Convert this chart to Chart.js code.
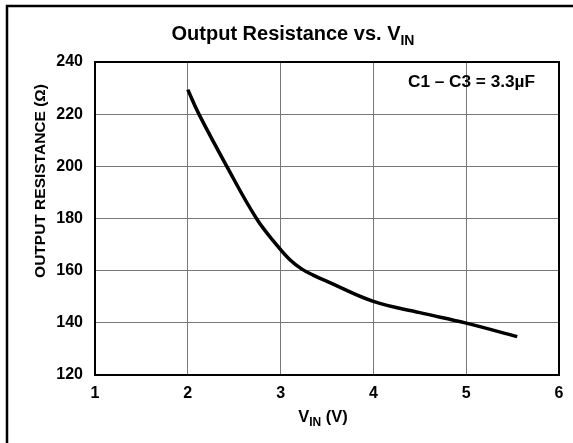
<!DOCTYPE html>
<html>
<head>
<meta charset="utf-8">
<script src="https://cdn.jsdelivr.net/npm/chart.js@4.4.1/dist/chart.umd.min.js"></script>
<style>
  html, body { margin: 0; padding: 0; background: #fff; }
  #wrap { width: 573px; height: 443px; position: relative; }
</style>
</head>
<body>
<div id="wrap"><canvas id="chart" width="573" height="443"></canvas></div>
<script>
// data
const vin = [2.0, 2.12, 2.42, 2.74, 2.95, 3.1, 3.23, 3.35, 3.5, 4.0, 4.5, 5.0, 5.55];
const rout = [229.4, 220, 200, 180, 170.2, 164.2, 160.6, 158.3, 155.9, 148.2, 143.9, 139.9, 134.7];

const xTicks = [1, 2, 3, 4, 5, 6];
const yTicks = [120, 140, 160, 180, 200, 220, 240];

const FONT = '"Liberation Sans", Arial, Helvetica, sans-serif';

// titles, subscripts, note and frames
const decorations = {
  id: "decorations",
  afterDraw(chart) {
    const ctx = chart.ctx;
    const a = chart.chartArea;
    ctx.save();

    // outer frame (left + top only visible)
    ctx.strokeStyle = "#000";
    ctx.lineWidth = 2.5;
    ctx.beginPath();
    ctx.moveTo(7, 443);
    ctx.lineTo(7, 6);
    ctx.lineTo(573, 6);
    ctx.stroke();

    // plot box
    ctx.lineWidth = 2;
    ctx.strokeRect(a.left, a.top, a.right - a.left, a.bottom - a.top);

    ctx.fillStyle = "#000";
    ctx.textBaseline = "alphabetic";
    ctx.textAlign = "left";

    // chart title with subscript
    ctx.font = "bold 20px " + FONT;
    const t1 = "Output Resistance vs. V";
    const w1 = ctx.measureText(t1).width;
    ctx.font = "bold 14px " + FONT;
    const w2 = ctx.measureText("IN").width;
    let x0 = 293 - (w1 + w2) / 2;
    ctx.font = "bold 20px " + FONT;
    ctx.fillText(t1, x0, 40);
    ctx.font = "bold 14px " + FONT;
    ctx.fillText("IN", x0 + w1, 45);

    // x axis title
    ctx.font = "bold 16.5px " + FONT;
    const xa = ctx.measureText("V").width;
    const xc = ctx.measureText(" (V)").width;
    ctx.font = "bold 12px " + FONT;
    const xb = ctx.measureText("IN").width;
    x0 = 323 - (xa + xb + xc) / 2;
    ctx.font = "bold 16.5px " + FONT;
    ctx.fillText("V", x0, 422);
    ctx.fillText(" (V)", x0 + xa + xb, 422);
    ctx.font = "bold 12px " + FONT;
    ctx.fillText("IN", x0 + xa, 426);

    // note
    ctx.font = "bold 17.2px " + FONT;
    ctx.fillText("C1 \u2013 C3 = 3.3\u00B5F", 408, 87);

    // y axis title
    ctx.translate(45, 181);
    ctx.rotate(-Math.PI / 2);
    ctx.font = "bold 15.5px " + FONT;
    ctx.textAlign = "center";
    ctx.fillText("OUTPUT RESISTANCE (\u03A9)", 0, 0);
    ctx.restore();
  }
};

new Chart(document.getElementById("chart"), {
  type: "line",
  data: {
    datasets: [{
      data: vin.map((v, i) => ({ x: v, y: rout[i] })),
      borderColor: "#000",
      borderWidth: 3.5,
      pointRadius: 0,
      tension: 0.4,
      fill: false
    }]
  },
  options: {
    responsive: false,
    animation: false,
    devicePixelRatio: 1,
    layout: { padding: { left: 0, top: 62, right: 14, bottom: 0 } },
    plugins: {
      legend: { display: false },
      title: { display: false },
      tooltip: { enabled: false }
    },
    scales: {
      x: {
        type: "linear",
        min: xTicks[0],
        max: xTicks[xTicks.length - 1],
        afterBuildTicks: (s) => { s.ticks = xTicks.map((v) => ({ value: v })); },
        afterFit: (s) => { s.height = 68; },
        grid: { color: "#777", lineWidth: 1, drawTicks: false },
        border: { display: false },
        ticks: {
          padding: 9,
          color: "#000",
          font: { family: FONT, size: 16, weight: "bold" }
        }
      },
      y: {
        type: "linear",
        min: yTicks[0],
        max: yTicks[yTicks.length - 1],
        afterBuildTicks: (s) => { s.ticks = yTicks.map((v) => ({ value: v })); },
        afterFit: (s) => { s.width = 95; },
        grid: { color: "#777", lineWidth: 1, drawTicks: false },
        border: { display: false },
        ticks: {
          padding: 12,
          color: "#000",
          font: { family: FONT, size: 16, weight: "bold" }
        }
      }
    }
  },
  plugins: [decorations]
});
</script>
</body>
</html>
